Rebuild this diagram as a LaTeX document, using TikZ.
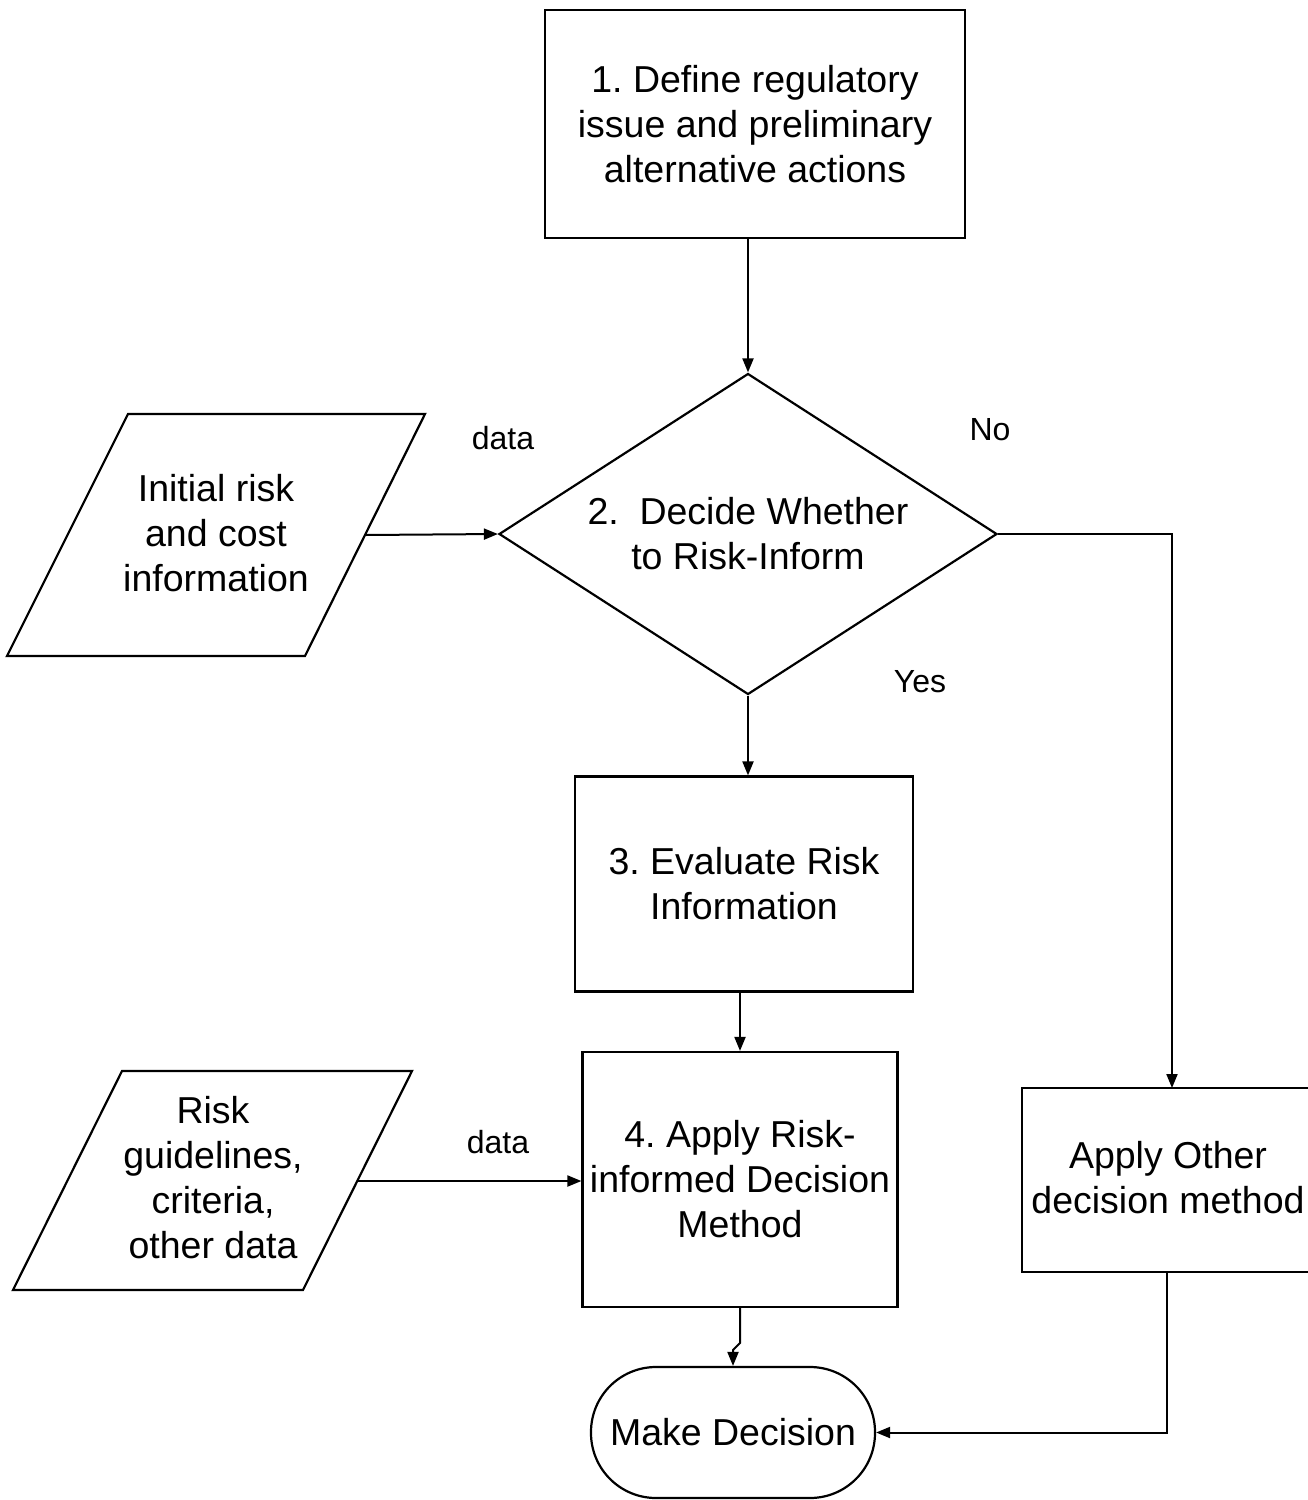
\documentclass[tikz,border=0pt]{standalone}
\usepackage{fontspec}
\setmainfont{Liberation Sans}
\usetikzlibrary{arrows.meta,shapes.geometric}
\frenchspacing
\begin{document}
\begin{tikzpicture}[x=1pt,y=-1pt,
  line width=2.2pt,
  big/.style={font=\fontsize{37.5}{45}\selectfont, align=center},
  lbl/.style={font=\fontsize{32}{38}\selectfont, inner sep=0pt},
  procbox/.style={draw, big, rectangle, inner sep=0pt},
  arr/.style={-{Triangle[length=14pt,width=11pt]}, line width=2pt},
]
\useasboundingbox (0,0) rectangle (1308,1500);
\clip (0,0) rectangle (1308,1500);

% Box 1
\node[procbox, minimum width=420pt, minimum height=228pt] (b1) at (755,124)
  {1. Define regulatory\\issue and preliminary\\alternative actions};

% Diamond
\node[draw, diamond, big, inner sep=0pt, shape aspect=1.55,
      minimum width=498pt, minimum height=321pt] (dia) at (748,534)
  {2.\hspace{0.55em}Decide Whether\\to Risk-Inform};

% Parallelogram 1
\draw (128,414) -- (425,414) -- (305,656) -- (7,656) -- cycle;
\node[big] (p1) at (216,533) {Initial risk\\and cost\\information};
\coordinate (p1r) at (365,535);

% Box 3
\node[procbox, minimum width=338pt, minimum height=215pt] (b3) at (744,884)
  {3. Evaluate Risk\\Information};

% Box 4
\node[procbox, minimum width=315pt, minimum height=255pt] (b4) at (740,1179.5)
  {4. Apply Risk-\\informed Decision\\Method};

% Parallelogram 2
\draw (122,1071) -- (412,1071) -- (303,1290) -- (13,1290) -- cycle;
\node[big] (p2) at (213,1178) {Risk\\guidelines,\\criteria,\\other data};
\coordinate (p2r) at (358,1181);

% Apply other box (right edge runs off the page)
\node[draw, rectangle, inner sep=0pt, minimum width=330pt, minimum height=184pt] (oth) at (1187,1180) {};
\coordinate (othtop) at (1172,1088);
\coordinate (othbot) at (1167,1272);
\node[big] (othtxt) at (1168,1178) {Apply Other\\decision method};

% Terminal
\node[draw, rectangle, rounded corners=65pt, big, inner sep=0pt,
      minimum width=284pt, minimum height=131pt] (term) at (733,1432.5) {Make Decision};

% Labels
\node[lbl] (ld1) at (503,438) {data};
\node[lbl] (lno) at (990,430) {No};
\node[lbl] (lyes) at (920,682) {Yes};
\node[lbl] (ld2) at (498,1142) {data};

% Connectors
\draw[arr] (dia.north |- b1.south) -- (dia.north);
\draw[arr] (p1r) -- (dia.west);
\draw[arr] (dia.east) -- (dia.east -| othtop) -- (othtop);
\draw[arr] (dia.south) -- (dia.south |- b3.north);
\draw[arr] (b4.north |- b3.south) -- (b4.north);
\draw[arr] (p2r) -- (b4.west |- p2r);
\coordinate (j1) at (740,1343);
\coordinate (j2) at (733,1350);
\draw[arr] (b4.south) -- (j1) -- (j2) -- (term.north);
\draw[arr] (othbot) -- (othbot |- term.east) -- (term.east);
\end{tikzpicture}
\end{document}
